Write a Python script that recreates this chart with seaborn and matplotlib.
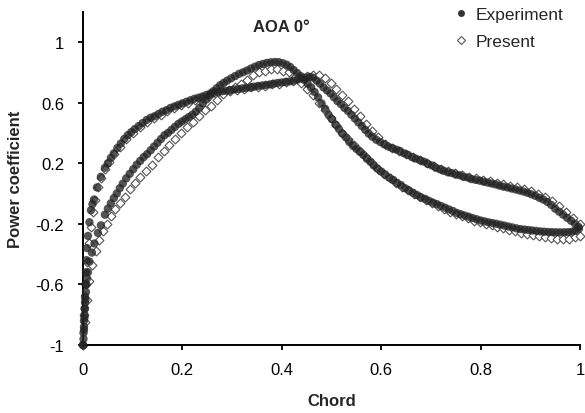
import numpy as np
import pandas as pd
import matplotlib
matplotlib.use("Agg")
import matplotlib.pyplot as plt
from matplotlib.lines import Line2D
import seaborn as sns

# ---- Experiment: suction-side branch (steep near leading edge) ----
exp_a_x = [0.000, 0.001, 0.001, 0.002, 0.002, 0.003, 0.003, 0.004, 0.004, 0.005,
           0.006, 0.007, 0.008, 0.010, 0.013, 0.016, 0.019, 0.022, 0.028, 0.036,
           0.044, 0.050, 0.056, 0.062, 0.069, 0.076, 0.083, 0.090, 0.097, 0.104,
           0.112, 0.120, 0.128, 0.136, 0.144, 0.152, 0.160, 0.168, 0.176, 0.184,
           0.192, 0.200, 0.208, 0.216, 0.224, 0.232, 0.240, 0.248, 0.256, 0.264,
           0.272, 0.280, 0.288, 0.296, 0.304, 0.312, 0.320, 0.328, 0.336, 0.344,
           0.352, 0.360, 0.368, 0.376, 0.384, 0.392, 0.400, 0.408, 0.416, 0.424,
           0.432, 0.440, 0.448, 0.456, 0.463, 0.470, 0.477, 0.484, 0.491, 0.498,
           0.505, 0.512, 0.519, 0.526, 0.533, 0.540, 0.547, 0.554, 0.561, 0.568,
           0.575, 0.582, 0.590, 0.598, 0.606, 0.614, 0.622, 0.630, 0.638, 0.646,
           0.654, 0.662, 0.670, 0.678, 0.686, 0.694, 0.702, 0.710, 0.718, 0.726,
           0.734, 0.742, 0.750, 0.758, 0.766, 0.774, 0.782, 0.790, 0.798, 0.806,
           0.814, 0.822, 0.830, 0.838, 0.846, 0.854, 0.862, 0.870, 0.878, 0.886,
           0.894, 0.902, 0.910, 0.918, 0.926, 0.934, 0.942, 0.950, 0.958, 0.966,
           0.974, 0.982, 0.990, 0.997]
exp_a_y = [-1.00, -0.96, -0.92, -0.88, -0.84, -0.80, -0.76, -0.72, -0.68, -0.60,
           -0.52, -0.44, -0.36, -0.28, -0.19, -0.11, -0.07, -0.04, 0.04, 0.11,
           0.17, 0.20, 0.235, 0.265, 0.30, 0.33, 0.36, 0.385, 0.405, 0.425,
           0.445, 0.465, 0.485, 0.50, 0.51, 0.525, 0.54, 0.55, 0.565, 0.575,
           0.585, 0.595, 0.605, 0.615, 0.625, 0.632, 0.64, 0.65, 0.66, 0.665,
           0.67, 0.675, 0.678, 0.682, 0.687, 0.69, 0.694, 0.697, 0.70, 0.705,
           0.71, 0.713, 0.717, 0.72, 0.725, 0.73, 0.733, 0.737, 0.74, 0.745,
           0.752, 0.76, 0.765, 0.77, 0.765, 0.745, 0.725, 0.70, 0.68, 0.66,
           0.635, 0.61, 0.59, 0.565, 0.545, 0.52, 0.495, 0.47, 0.445, 0.42,
           0.395, 0.375, 0.355, 0.34, 0.325, 0.31, 0.30, 0.29, 0.28, 0.265,
           0.255, 0.24, 0.23, 0.22, 0.21, 0.195, 0.185, 0.17, 0.16, 0.15,
           0.14, 0.135, 0.125, 0.12, 0.11, 0.105, 0.095, 0.09, 0.085, 0.078,
           0.072, 0.066, 0.06, 0.052, 0.045, 0.04, 0.033, 0.027, 0.02, 0.013,
           0.005, -0.005, -0.015, -0.028, -0.04, -0.055, -0.075, -0.10, -0.12, -0.14,
           -0.16, -0.18, -0.20, -0.22]

# ---- Experiment: second branch (peaks near 0.39 chord) ----
exp_b_x = [0.000, 0.002, 0.003, 0.004, 0.005, 0.006, 0.007, 0.008, 0.010, 0.013,
           0.018, 0.023, 0.030, 0.036, 0.044, 0.050, 0.056, 0.062, 0.068, 0.074,
           0.080, 0.087, 0.094, 0.101, 0.108, 0.115, 0.122, 0.129, 0.136, 0.143,
           0.150, 0.157, 0.164, 0.171, 0.178, 0.185, 0.192, 0.199, 0.206, 0.213,
           0.220, 0.227, 0.234, 0.241, 0.248, 0.255, 0.262, 0.269, 0.276, 0.283,
           0.290, 0.298, 0.306, 0.314, 0.322, 0.330, 0.338, 0.346, 0.354, 0.362,
           0.370, 0.378, 0.386, 0.394, 0.402, 0.410, 0.417, 0.424, 0.431, 0.438,
           0.445, 0.452, 0.459, 0.466, 0.473, 0.480, 0.487, 0.494, 0.501, 0.508,
           0.515, 0.522, 0.529, 0.536, 0.543, 0.550, 0.557, 0.564, 0.571, 0.578,
           0.585, 0.592, 0.600, 0.608, 0.616, 0.624, 0.632, 0.640, 0.648, 0.656,
           0.664, 0.672, 0.680, 0.688, 0.696, 0.704, 0.712, 0.720, 0.728, 0.736,
           0.744, 0.752, 0.760, 0.768, 0.776, 0.784, 0.792, 0.800, 0.808, 0.816,
           0.824, 0.832, 0.840, 0.848, 0.856, 0.864, 0.872, 0.880, 0.888, 0.896,
           0.904, 0.912, 0.920, 0.928, 0.936, 0.944, 0.952, 0.960, 0.968, 0.976,
           0.984, 0.991, 0.998]
exp_b_y = [-1.00, -0.90, -0.82, -0.76, -0.70, -0.65, -0.60, -0.56, -0.52, -0.45,
           -0.39, -0.33, -0.26, -0.21, -0.14, -0.10, -0.065, -0.03, 0.00, 0.035,
           0.065, 0.10, 0.13, 0.16, 0.19, 0.215, 0.24, 0.26, 0.285, 0.31,
           0.335, 0.36, 0.385, 0.40, 0.42, 0.44, 0.46, 0.475, 0.49, 0.505,
           0.52, 0.54, 0.565, 0.595, 0.62, 0.65, 0.675, 0.695, 0.715, 0.73,
           0.745, 0.76, 0.775, 0.79, 0.80, 0.812, 0.825, 0.837, 0.848, 0.855,
           0.862, 0.866, 0.868, 0.867, 0.86, 0.85, 0.835, 0.815, 0.795, 0.775,
           0.75, 0.725, 0.70, 0.67, 0.635, 0.595, 0.56, 0.52, 0.49, 0.455,
           0.425, 0.395, 0.37, 0.34, 0.315, 0.295, 0.275, 0.255, 0.23, 0.21,
           0.185, 0.165, 0.145, 0.125, 0.105, 0.09, 0.07, 0.055, 0.035, 0.02,
           0.005, -0.01, -0.025, -0.035, -0.048, -0.06, -0.07, -0.082, -0.093, -0.105,
           -0.115, -0.128, -0.137, -0.145, -0.153, -0.162, -0.17, -0.178, -0.184, -0.19,
           -0.195, -0.20, -0.206, -0.212, -0.218, -0.224, -0.23, -0.235, -0.238, -0.241,
           -0.244, -0.247, -0.25, -0.252, -0.254, -0.255, -0.256, -0.256, -0.256, -0.255,
           -0.252, -0.245, -0.232]

# ---- Present computation: suction-side branch ----
pre_a_x = [0.000, 0.003, 0.006, 0.009, 0.012, 0.016, 0.020, 0.025, 0.030, 0.036,
           0.044, 0.052, 0.062, 0.074, 0.086, 0.100, 0.114, 0.128, 0.142, 0.156,
           0.170, 0.184, 0.198, 0.212, 0.226, 0.240, 0.254, 0.268, 0.282, 0.296,
           0.310, 0.324, 0.338, 0.352, 0.366, 0.380, 0.394, 0.408, 0.422, 0.436,
           0.450, 0.462, 0.474, 0.486, 0.498, 0.510, 0.522, 0.534, 0.546, 0.558,
           0.570, 0.582, 0.594, 0.608, 0.622, 0.636, 0.650, 0.664, 0.678, 0.692,
           0.706, 0.720, 0.734, 0.748, 0.762, 0.776, 0.790, 0.804, 0.818, 0.832,
           0.846, 0.860, 0.874, 0.888, 0.902, 0.916, 0.930, 0.944, 0.958, 0.972,
           0.986, 1.000]
pre_a_y = [-1.00, -0.80, -0.60, -0.45, -0.33, -0.22, -0.12, -0.04, 0.04, 0.10,
           0.16, 0.21, 0.26, 0.31, 0.36, 0.40, 0.44, 0.47, 0.50, 0.52,
           0.545, 0.565, 0.585, 0.60, 0.615, 0.63, 0.645, 0.655, 0.665, 0.675,
           0.685, 0.69, 0.70, 0.705, 0.71, 0.72, 0.725, 0.735, 0.745, 0.76,
           0.775, 0.785, 0.78, 0.76, 0.73, 0.69, 0.65, 0.61, 0.56, 0.51,
           0.46, 0.41, 0.37, 0.33, 0.30, 0.28, 0.26, 0.24, 0.22, 0.20,
           0.18, 0.165, 0.15, 0.135, 0.12, 0.11, 0.10, 0.09, 0.08, 0.07,
           0.06, 0.05, 0.04, 0.03, 0.015, 0.00, -0.02, -0.05, -0.08, -0.12,
           -0.16, -0.20]

# ---- Present computation: second branch ----
pre_b_x = [0.000, 0.004, 0.008, 0.013, 0.019, 0.026, 0.033, 0.040, 0.048, 0.056,
           0.064, 0.074, 0.084, 0.094, 0.104, 0.114, 0.126, 0.138, 0.150, 0.162,
           0.174, 0.186, 0.198, 0.210, 0.222, 0.234, 0.246, 0.258, 0.270, 0.282,
           0.294, 0.306, 0.318, 0.330, 0.342, 0.354, 0.366, 0.378, 0.390, 0.402,
           0.414, 0.426, 0.438, 0.450, 0.462, 0.474, 0.486, 0.498, 0.510, 0.522,
           0.534, 0.546, 0.558, 0.570, 0.582, 0.594, 0.606, 0.618, 0.630, 0.642,
           0.654, 0.666, 0.678, 0.690, 0.702, 0.714, 0.726, 0.738, 0.750, 0.762,
           0.774, 0.786, 0.798, 0.810, 0.822, 0.834, 0.846, 0.858, 0.870, 0.882,
           0.894, 0.906, 0.918, 0.930, 0.942, 0.954, 0.966, 0.978, 0.990, 1.000]
pre_b_y = [-1.00, -0.85, -0.70, -0.58, -0.47, -0.38, -0.31, -0.25, -0.20, -0.15,
           -0.10, -0.06, -0.02, 0.03, 0.07, 0.11, 0.15, 0.19, 0.24, 0.28,
           0.32, 0.36, 0.40, 0.44, 0.47, 0.51, 0.55, 0.58, 0.62, 0.655,
           0.685, 0.705, 0.725, 0.75, 0.78, 0.80, 0.81, 0.82, 0.82, 0.81,
           0.80, 0.77, 0.73, 0.69, 0.65, 0.60, 0.55, 0.50, 0.45, 0.40,
           0.36, 0.32, 0.28, 0.24, 0.20, 0.16, 0.13, 0.10, 0.07, 0.045,
           0.02, -0.005, -0.025, -0.045, -0.065, -0.085, -0.10, -0.12, -0.135, -0.15,
           -0.165, -0.18, -0.19, -0.20, -0.21, -0.22, -0.23, -0.24, -0.25, -0.26,
           -0.265, -0.275, -0.28, -0.29, -0.295, -0.30, -0.30, -0.30, -0.29, -0.28]

x_ticks = [0, 0.2, 0.4, 0.6, 0.8, 1]
y_ticks = [-1, -0.6, -0.2, 0.2, 0.6, 1]

experiment = pd.DataFrame({"Chord": exp_a_x + exp_b_x, "Cp": exp_a_y + exp_b_y})
present = pd.DataFrame({"Chord": pre_a_x + pre_b_x, "Cp": pre_a_y + pre_b_y})

sns.set_style("ticks")
plt.rcParams["font.family"] = ["Liberation Sans", "DejaVu Sans"]

fig = plt.figure(figsize=(5.85, 4.14), dpi=100)
ax = fig.add_axes([83 / 585, 68 / 414, 497 / 585, (346 - 12.7) / 414])

sns.scatterplot(data=present, x="Chord", y="Cp", ax=ax, marker="D", s=20,
                facecolor="white", edgecolor="#555555", linewidth=0.8,
                clip_on=False, zorder=2)
sns.scatterplot(data=experiment, x="Chord", y="Cp", ax=ax, marker="o", s=36,
                color="#242424", alpha=0.78, edgecolor="none", linewidth=0,
                clip_on=False, zorder=3)

ax.set_xlim(0, 1)
ax.set_ylim(-1, 1.2)
ax.set_xticks(x_ticks)
ax.set_yticks(y_ticks)
ax.set_xticklabels([f"{v:g}" for v in x_ticks])
ax.set_yticklabels([f"{v:g}" for v in y_ticks])
ax.tick_params(direction="out", length=3.5, width=1.3, labelsize=12,
               colors="black")
ax.tick_params(axis="x", pad=9)
ax.tick_params(axis="y", pad=10)
for side in ("top", "right"):
    ax.spines[side].set_visible(False)
for side in ("left", "bottom"):
    ax.spines[side].set_linewidth(1.4)
    ax.spines[side].set_color("black")

ax.set_xlabel("Chord", fontsize=12, fontweight="bold", labelpad=11)
ax.set_ylabel("Power coefficient", fontsize=12, fontweight="bold", labelpad=9)

ax.text(0.4, 1.10, "AOA 0°", ha="center", va="center", fontsize=12,
        fontweight="bold")

handles = [
    Line2D([], [], linestyle="none", marker="o", markersize=5,
           markerfacecolor="#333333", markeredgecolor="none"),
    Line2D([], [], linestyle="none", marker="D", markersize=4,
           markerfacecolor="white", markeredgecolor="#555555",
           markeredgewidth=0.8),
]
fig.legend(handles, ["Experiment", "Present"], loc="upper left",
           bbox_to_anchor=(447 / 585, 1.0 - 1 / 414), frameon=False,
           fontsize=12.5, handlelength=0.8, handletextpad=0.45,
           labelspacing=0.7, borderaxespad=0)

fig.savefig("out.png", dpi=100)
